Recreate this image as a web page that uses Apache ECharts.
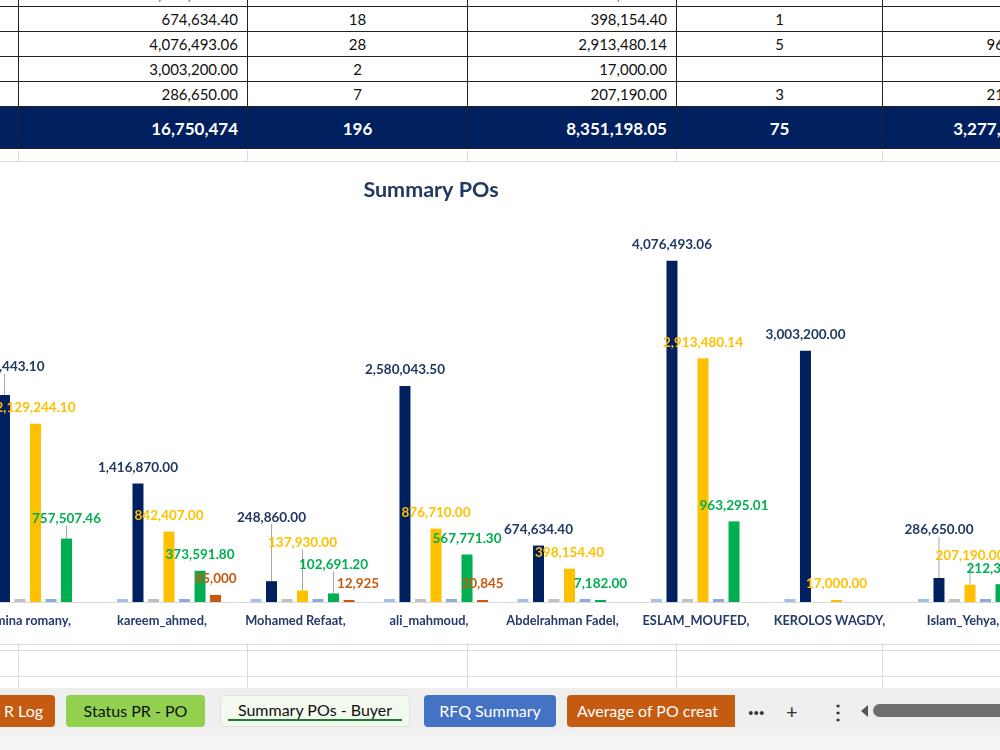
<!DOCTYPE html>
<html>
<head>
<meta charset="utf-8">
<script src="https://cdn.jsdelivr.net/npm/echarts@6/dist/echarts.min.js"></script>
<style>
body { margin: 0; width: 1000px; height: 750px; overflow: hidden; background: #fff; position: relative; font-family: Lato, sans-serif; }
.cell { position: absolute; box-sizing: border-box; font-size: 15px; color: #111; white-space: nowrap; }
.grid-v { position: absolute; width: 1px; background: #dcdcdc; }
.grid-h { position: absolute; height: 1px; background: #dcdcdc; left: 0; width: 1000px; }
.tabbar { position: absolute; left: 0; top: 688px; width: 1000px; height: 47px; background: #efefef; }
.tab { position: absolute; top: 7px; height: 32px; border-radius: 4px; font-size: 16px; line-height: 32px; text-align: center; white-space: nowrap; overflow: hidden; }
</style>
</head>
<body>
<div id="sheet"></div>
<div id="chart" style="position:absolute;left:-100px;top:162px;width:1200px;height:481px;background:#fff;"></div>
<div class="tabbar" id="tabs"></div>
<div style="position:absolute;left:0;top:735px;width:1000px;height:15px;background:#f4f4f4;"></div>

<script>
// buyers shown in the chart (left one is cut by the window)
const buyers = ['Amina romany,', 'kareem_ahmed,', 'Mohamed Refaat,', 'ali_mahmoud,', 'Abdelrahman Fadel,', 'ESLAM_MOUFED,', 'KEROLOS WAGDY,', 'Islam_Yehya,'];
const poCount1 = [38, 27, 14, 33, 18, 28, 2, 7];
const poValue1 = [2473443.10, 1416870.00, 248860.00, 2580043.50, 674634.40, 4076493.06, 3003200.00, 286650.00];
const poCount2 = [12, 8, 4, 6, 1, 5, null, 3];
const poValue2 = [2129244.10, 842407.00, 137930.00, 876710.00, 398154.40, 2913480.14, 17000.00, 207190.00];
const poCount3 = [9, 6, 3, 7, 1, 4, null, 2];
const poValue3 = [757507.46, 373591.80, 102691.20, 567771.30, 7182.00, 963295.01, null, 212350.00];
const poValue4 = [null, 85000, 12925, 20845, null, null, null, null];

// totals row of the table
const totalValue1 = '16,750,474';
const totalCount1 = '196';
const totalValue2 = '8,351,198.05';
const totalCount2 = '75';
const totalValue3 = '3,277,812.64';

const fmt2 = v => v == null ? '' : v.toLocaleString('en-US', { minimumFractionDigits: 2, maximumFractionDigits: 2 });
const fmt0 = v => v == null ? '' : v.toLocaleString('en-US', { maximumFractionDigits: 0 });

// ---------- spreadsheet table ----------
const sheet = document.getElementById('sheet');
const colX = [-100, 18, 247, 467, 676, 882, 1100];
const rowY = [-19, 6, 31, 56, 81, 106, 149];
function addCell(x1, x2, y1, y2, text, align, style) {
  const d = document.createElement('div');
  d.className = 'cell';
  d.style.left = x1 + 'px';
  d.style.top = y1 + 'px';
  d.style.width = (x2 - x1) + 'px';
  d.style.height = (y2 - y1) + 'px';
  d.style.lineHeight = (y2 - y1) + 'px';
  d.style.textAlign = align;
  d.style.padding = align === 'right' ? '0 9px 0 0' : '0';
  d.style.borderLeft = '1.5px solid #222';
  d.style.borderTop = '1.5px solid #222';
  Object.assign(d.style, style || {});
  d.textContent = text;
  sheet.appendChild(d);
}
for (let r = 0; r < 5; r++) {
  const i = 3 + r;
  const vals = [fmt2(poValue1[i]), poCount1[i] == null ? '' : poCount1[i], fmt2(poValue2[i]), poCount2[i] == null ? '' : poCount2[i], fmt2(poValue3[i])];
  addCell(colX[0], colX[1], rowY[r], rowY[r + 1], '', 'left');
  for (let c = 0; c < 5; c++) {
    const right = c % 2 === 0;
    addCell(colX[c + 1], colX[c + 2], rowY[r], rowY[r + 1], vals[c], right ? 'right' : 'center',
      c === 4 ? { paddingRight: '37px' } : {});
  }
}
const tot = ['', totalValue1, totalCount1, totalValue2, totalCount2, totalValue3];
for (let c = 0; c < 6; c++) {
  addCell(colX[c], colX[c + 1], rowY[5], rowY[6], tot[c], c % 2 === 1 || c === 5 ? 'right' : 'center', {
    background: '#002060', color: '#fff', fontWeight: 'bold', fontSize: '17px',
    borderBottom: '1.5px solid #222', paddingRight: c === 5 ? '46px' : (c % 2 === 1 ? '9px' : '0')
  });
}
// light sheet gridlines around the chart
[18, 247, 467, 676, 882].forEach(x => {
  const a = document.createElement('div'); a.className = 'grid-v';
  a.style.left = x + 'px'; a.style.top = '150px'; a.style.height = '12px'; sheet.appendChild(a);
  const b = document.createElement('div'); b.className = 'grid-v';
  b.style.left = x + 'px'; b.style.top = '643px'; b.style.height = '45px'; sheet.appendChild(b);
});
[161, 644, 650, 676].forEach(y => {
  const h = document.createElement('div'); h.className = 'grid-h';
  h.style.top = y + 'px'; sheet.appendChild(h);
});

// ---------- sheet tabs ----------
const tabs = document.getElementById('tabs');
const tabNames = ['R Log', 'Status PR - PO', 'Summary POs - Buyer', 'RFQ Summary', 'Average of PO creat'];
const tabBoxes = [[-20, 55, '#c55a11', '#fff'], [66, 205, '#92d050', '#111'], [220, 410, '#f3f9ee', '#111'], [424, 556, '#4472c4', '#fff'], [567, 735, '#c55a11', '#fff']];
tabNames.forEach((t, i) => {
  const [x1, x2, bg, fg] = tabBoxes[i];
  const d = document.createElement('div');
  d.className = 'tab';
  d.style.left = x1 + 'px';
  d.style.width = (x2 - x1) + 'px';
  d.style.background = bg;
  d.style.color = fg;
  d.textContent = t;
  if (i === 0) { d.style.textAlign = 'right'; d.style.paddingRight = '12px'; d.style.boxSizing = 'border-box'; }
  if (i === 2) { d.style.border = '1px solid #dde6d5'; d.style.boxSizing = 'border-box'; d.style.lineHeight = '28px'; }
  if (i === 4) { d.style.borderRadius = '4px 0 0 4px'; d.style.textAlign = 'left'; d.style.paddingLeft = '10px'; d.style.boxSizing = 'border-box'; }
  tabs.appendChild(d);
  if (i === 2) {
    const u = document.createElement('div');
    u.style.cssText = 'position:absolute;left:228px;top:31px;width:174px;height:2px;background:#1e7b34;';
    tabs.appendChild(u);
  }
});
[['\u00b7\u00b7\u00b7', 748, 'bold'], ['+', 786, 'normal'], ['\u22ee', 828, 'bold']].forEach(([s, x, w]) => {
  const d = document.createElement('div');
  d.style.cssText = 'position:absolute;top:7px;height:32px;line-height:32px;font-size:20px;color:#333;font-weight:' + w + ';left:' + x + 'px;';
  d.textContent = s;
  tabs.appendChild(d);
});
const arrow = document.createElement('div');
arrow.style.cssText = 'position:absolute;left:861px;top:17px;width:0;height:0;border-top:6px solid transparent;border-bottom:6px solid transparent;border-right:7px solid #555;';
tabs.appendChild(arrow);
const thumb = document.createElement('div');
thumb.style.cssText = 'position:absolute;left:873px;top:16px;width:140px;height:13px;border-radius:7px;background:#6e6e6e;';
tabs.appendChild(thumb);

// ---------- chart ----------
const chart = echarts.init(document.getElementById('chart'));

// labels that were dragged up in the workbook (series index -> data index -> extra px)
const lifts = { 1: { 0: 12, 2: 48, 7: 32 }, 3: { 2: 32, 7: 13 }, 5: { 0: 4, 2: 13 } };
const nudges = { 6: { 2: 9 } };

function withLines(arr, s) {
  return arr.map((v, i) => (lifts[s] && lifts[s][i] && v != null) ? { value: v, labelLine: { show: true } } : v);
}

function countSeries(name, data, color) {
  return {
    name, type: 'bar', data, barWidth: 11, barGap: '41%', barMinHeight: 3,
    itemStyle: { color }, label: { show: false }, silent: true
  };
}
function valueSeries(name, data, color, labelColor, s, fmt) {
  return {
    name, type: 'bar', data: withLines(data, s), barWidth: 11, barGap: '41%', barMinHeight: 2,
    itemStyle: { color },
    label: {
      show: true, position: 'top', distance: 9,
      formatter: p => fmt(p.value),
      color: labelColor, fontFamily: 'Lato', fontWeight: 'bold', fontSize: 13.5
    },
    labelLine: { show: false, lineStyle: { color: '#a6a6a6', width: 1 } }
  };
}

const option = {
  animation: false,
  title: {
    text: 'Summary POs', left: 526, top: 12, textAlign: 'center',
    textStyle: { fontFamily: 'Lato', fontWeight: 'bold', fontSize: 21.5, color: '#1f3864' }
  },
  grid: { left: 68.75, top: 40, width: 1068, height: 400 },
  xAxis: {
    type: 'category', data: buyers,
    axisLine: { lineStyle: { color: '#d9d9d9' } },
    axisTick: { show: false },
    axisLabel: { color: '#243a6b', fontFamily: 'Lato', fontWeight: 'bold', fontSize: 12.8, margin: 12, interval: 0, padding: [0, 14, 0, 0] }
  },
  yAxis: { type: 'value', min: 0, max: 4780000, show: false, splitLine: { show: false } },
  labelLayout: p => {
    const l = lifts[p.seriesIndex] && lifts[p.seriesIndex][p.dataIndex];
    const n = nudges[p.seriesIndex] && nudges[p.seriesIndex][p.dataIndex];
    return { dy: l ? -l : 0, dx: n || 0 };
  },
  series: [
    countSeries('PO count', poCount1, '#9dc3e6'),
    valueSeries('PO value', poValue1, '#002060', '#1f3864', 1, fmt2),
    countSeries('Count 2', poCount2, '#c0c0c0'),
    valueSeries('Value 2', poValue2, '#ffc000', '#ffc000', 3, fmt2),
    countSeries('Count 3', poCount3, '#8faadc'),
    valueSeries('Value 3', poValue3, '#00b050', '#00b050', 5, fmt2),
    valueSeries('Value 4', poValue4, '#c55a11', '#c55a11', 6, fmt0)
  ]
};
chart.setOption(option);
</script>
</body>
</html>
